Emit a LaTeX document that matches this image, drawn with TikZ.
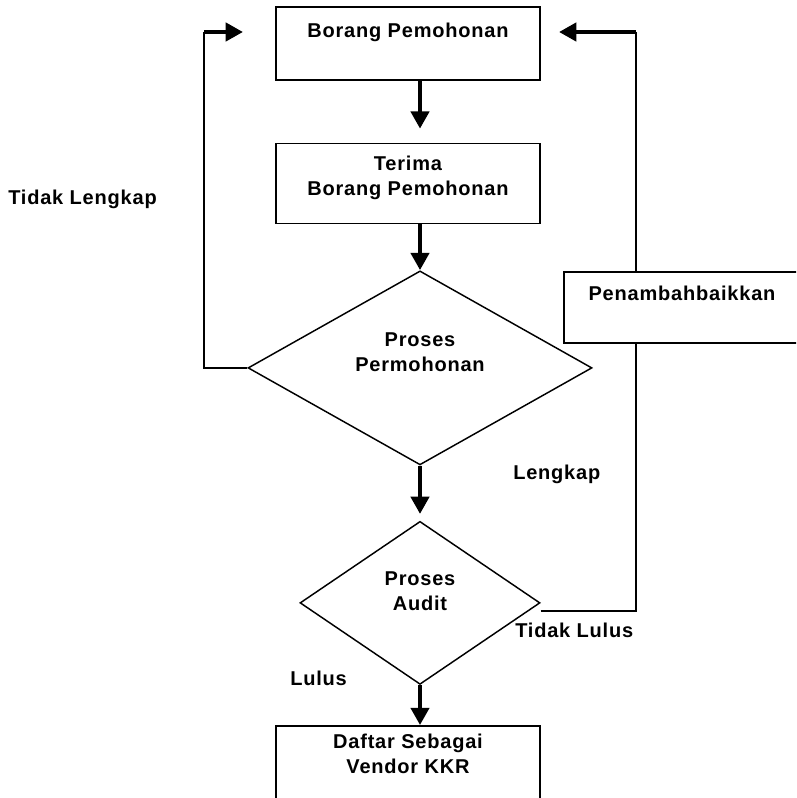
\documentclass[tikz,border=0pt]{standalone}
\usepackage{fontspec}
\setmainfont{Liberation Sans}[LetterSpace=4.0]
\usetikzlibrary{positioning,shapes.geometric,arrows.meta}
\newcommand{\flowfont}{\bfseries\fontsize{15}{18.75}\selectfont}
\tikzstyle{block} = [draw, rectangle, line width=1.1pt, minimum width=198pt, inner sep=0pt]
\tikzstyle{decision} = [draw, diamond, line width=1.1pt, inner sep=0pt]
\tikzstyle{to} = [-{Triangle[length=13pt,width=13.5pt]}, line width=3.4pt]
\tikzstyle{line} = [line width=1.1pt]
\tikzstyle{txt} = [anchor=north, inner sep=0pt, align=center, font=\flowfont]
\begin{document}
\begin{tikzpicture}
\useasboundingbox (0,0) rectangle (597pt,-598.5pt);
\clip (0,0) rectangle (597pt,-598.5pt);
% main column
\node (borang) [block, minimum height=54.75pt,
    label={[txt,yshift=-12.5pt]north:Borang Pemohonan}] at (306pt,-32.6pt) {};
\node (terima) [block, minimum height=60pt, below=46.5pt of borang,
    label={[txt,yshift=-10pt]north:Terima\\Borang Pemohonan}] {};
\node (perm) [decision, minimum width=258pt, minimum height=145.5pt,
    below=34.5pt of terima, xshift=9pt,
    label={[txt,yshift=11.6pt]center:Proses\\Permohonan}] {};
\node (audit) [decision, minimum width=180pt, minimum height=122.25pt,
    below=41.25pt of perm,
    label={[txt,yshift=8.4pt]center:Proses\\Audit}] {};
\node (daftar) [block, minimum height=75pt, below=30pt of audit, xshift=-9pt,
    label={[txt,yshift=-6.75pt]north:Daftar Sebagai\\Vendor KKR}] {};
% loops
\coordinate (lefttop) at (153pt,-24pt);
\coordinate (ltip) at (182.25pt,-24pt);
\coordinate (righttop) at (477pt,-24pt);
\coordinate (rtip) at (419.25pt,-24pt);
\draw[line] (perm.west) -| (lefttop);
\draw[to] (lefttop) -- (ltip);
\draw[line] ([yshift=-6pt]audit.east) -| (righttop);
\draw[to] (righttop) -- (rtip);
\node (tambah) [block, fill=white, minimum width=177pt, minimum height=53.25pt,
    label={[txt,yshift=-11pt]north:Penambahbaikkan}] at (511.5pt,-230.6pt) {};
% arrows
\draw[to, shorten >=10.5pt] (borang.south -| perm.north) -- (terima.north -| perm.north);
\draw[to] (terima.south -| perm.north) -- (perm.north);
\draw[to, shorten >=5pt] (perm.south) -- (audit.north);
\draw[to] (audit.south) -- (daftar.north -| audit.south);
% labels
\node (tidaklengkap) [txt, anchor=base west] at (6pt,-153.75pt) {Tidak Lengkap};
\node (lengkap) [txt, anchor=base west] at (384.75pt,-359.25pt) {Lengkap};
\node (tidaklulus) [txt, anchor=base west] at (386.25pt,-477.75pt) {Tidak Lulus};
\node (lulus) [txt, anchor=base west] at (217.5pt,-513.75pt) {Lulus};
\end{tikzpicture}
\end{document}
